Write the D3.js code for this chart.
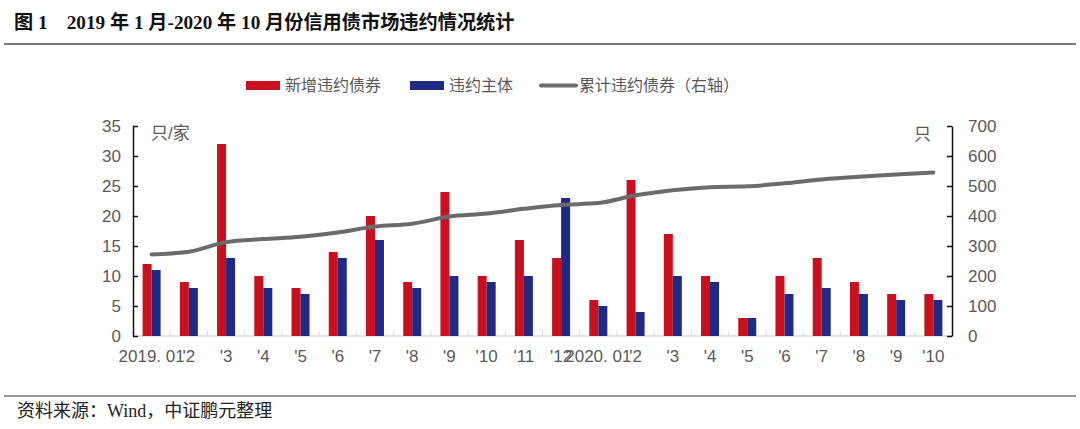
<!DOCTYPE html>
<html>
<head>
<meta charset="utf-8">
<script src="https://d3js.org/d3.v7.min.js"></script>
<style>
body { margin: 0; background: #fff; }
svg text { font-family: "Liberation Sans", "Noto Sans CJK SC", sans-serif; }
</style>
</head>
<body>
<svg id="chart" width="1080" height="429"></svg>
<script>
// months, 2019.01 - 2020.10
var months = ["2019. 01", "'2", "'3", "'4", "'5", "'6", "'7", "'8", "'9", "'10", "'11", "'12",
              "2020. 01", "'2", "'3", "'4", "'5", "'6", "'7", "'8", "'9", "'10"];
var newDefaults = [12, 9, 32, 10, 8, 14, 20, 9, 24, 10, 16, 13, 6, 26, 17, 10, 3, 10, 13, 9, 7, 7];
var issuers = [11, 8, 13, 8, 7, 13, 16, 8, 10, 9, 10, 23, 5, 4, 10, 9, 3, 7, 8, 7, 6, 6];
var cumulative = [272, 281, 313, 323, 331, 345, 365, 374, 398, 408, 424, 437, 443, 469, 486, 496, 499, 509, 522, 531, 538, 545];
var leftTicks = [0, 5, 10, 15, 20, 25, 30, 35];
var rightTicks = [0, 100, 200, 300, 400, 500, 600, 700];

var svg = d3.select("#chart");
var plotL = 133, plotR = 952, plotT = 126, plotB = 336;

// title and frame lines
svg.append("text").attr("x", 14).attr("y", 29)
  .style("font-family", "'Liberation Serif', 'Noto Sans CJK SC', serif")
  .style("font-weight", "bold").style("font-size", "19.2px").attr("fill", "#111")
  .text("图 1　2019 年 1 月-2020 年 10 月份信用债市场违约情况统计");
svg.append("line").attr("x1", 4).attr("x2", 1076).attr("y1", 44).attr("y2", 44)
  .attr("stroke", "#777").attr("stroke-width", 2);
svg.append("line").attr("x1", 4).attr("x2", 1076).attr("y1", 396).attr("y2", 396)
  .attr("stroke", "#333").attr("stroke-width", 1);
svg.append("text").attr("x", 17).attr("y", 417)
  .style("font-family", "'Liberation Serif', 'Noto Sans CJK SC', serif")
  .style("font-size", "18px").attr("fill", "#222")
  .text("资料来源：Wind，中证鹏元整理");

var x = d3.scaleBand().domain(d3.range(months.length)).range([plotL, plotR]);
var yL = d3.scaleLinear().domain([0, 35]).range([plotB, plotT]);
var yR = d3.scaleLinear().domain([0, 700]).range([plotB, plotT]);
var bw = 9;

// x axis line + ticks between categories
svg.append("line").attr("x1", plotL).attr("x2", plotR).attr("y1", plotB).attr("y2", plotB)
  .attr("stroke", "#d9d9d9").attr("stroke-width", 1.5);
svg.selectAll(".xtick").data(d3.range(1, months.length)).enter().append("line")
  .attr("x1", function(d){ return x(d); }).attr("x2", function(d){ return x(d); })
  .attr("y1", plotB).attr("y2", plotB - 5)
  .attr("stroke", "#d9d9d9").attr("stroke-width", 1);

svg.selectAll(".red").data(newDefaults).enter().append("rect")
  .attr("x", function(d, i){ return x(i) + x.bandwidth() / 2 - bw; })
  .attr("y", function(d){ return yL(d); })
  .attr("width", bw).attr("height", function(d){ return plotB - yL(d); })
  .attr("fill", "#c8101e");
svg.selectAll(".blue").data(issuers).enter().append("rect")
  .attr("x", function(d, i){ return x(i) + x.bandwidth() / 2; })
  .attr("y", function(d){ return yL(d); })
  .attr("width", bw).attr("height", function(d){ return plotB - yL(d); })
  .attr("fill", "#1f2a85");

var line = d3.line()
  .x(function(d, i){ return x(i) + x.bandwidth() / 2; })
  .y(function(d){ return yR(d); })
  .curve(d3.curveMonotoneX);
svg.append("path").datum(cumulative).attr("d", line)
  .attr("fill", "none").attr("stroke", "#6b6b6b").attr("stroke-width", 4).attr("stroke-linecap", "round");

// left axis
var gL = svg.append("g").attr("transform", "translate(" + plotL + ",0)")
  .call(d3.axisRight(yL).tickValues(leftTicks).tickSize(5).tickSizeOuter(0));
gL.selectAll("text").attr("x", -12).attr("text-anchor", "end");
// right axis
var gR = svg.append("g").attr("transform", "translate(" + plotR + ",0)")
  .call(d3.axisLeft(yR).tickValues(rightTicks).tickSize(5).tickSizeOuter(0));
gR.selectAll("text").attr("x", 16).attr("text-anchor", "start");
[gL, gR].forEach(function(g){
  g.select(".domain").attr("stroke", "#111").attr("stroke-width", 1.5);
  g.selectAll("line").attr("stroke", "#111").attr("stroke-width", 1.5);
  g.selectAll("text").style("font-size", "17px").attr("fill", "#595959");
});

// x labels
svg.selectAll(".xl").data(months).enter().append("text")
  .attr("x", function(d, i){ return x(i) + x.bandwidth() / 2; })
  .attr("y", 362).attr("text-anchor", "middle")
  .style("font-size", "17px").attr("fill", "#595959")
  .text(function(d){ return d; });

// units
svg.append("text").attr("x", 151).attr("y", 139).style("font-size", "17px").attr("fill", "#595959").text("只/家");
svg.append("text").attr("x", 914).attr("y", 140).style("font-size", "17px").attr("fill", "#595959").text("只");

// legend
var legend = [
  {label: "新增违约债券", color: "#c8101e", type: "rect", x: 246},
  {label: "违约主体", color: "#1f2a85", type: "rect", x: 410},
  {label: "累计违约债券（右轴）", color: "#6b6b6b", type: "line", x: 540}
];
legend.forEach(function(l){
  if (l.type == "rect") {
    svg.append("rect").attr("x", l.x).attr("y", 81).attr("width", 34).attr("height", 9).attr("fill", l.color);
  } else {
    svg.append("line").attr("x1", l.x + 1).attr("x2", l.x + 36).attr("y1", 85.5).attr("y2", 85.5)
      .attr("stroke", l.color).attr("stroke-width", 4).attr("stroke-linecap", "round");
  }
  svg.append("text").attr("x", l.x + 39).attr("y", 91).style("font-size", "16px")
    .attr("fill", "#595959").text(l.label);
});
</script>
</body>
</html>
